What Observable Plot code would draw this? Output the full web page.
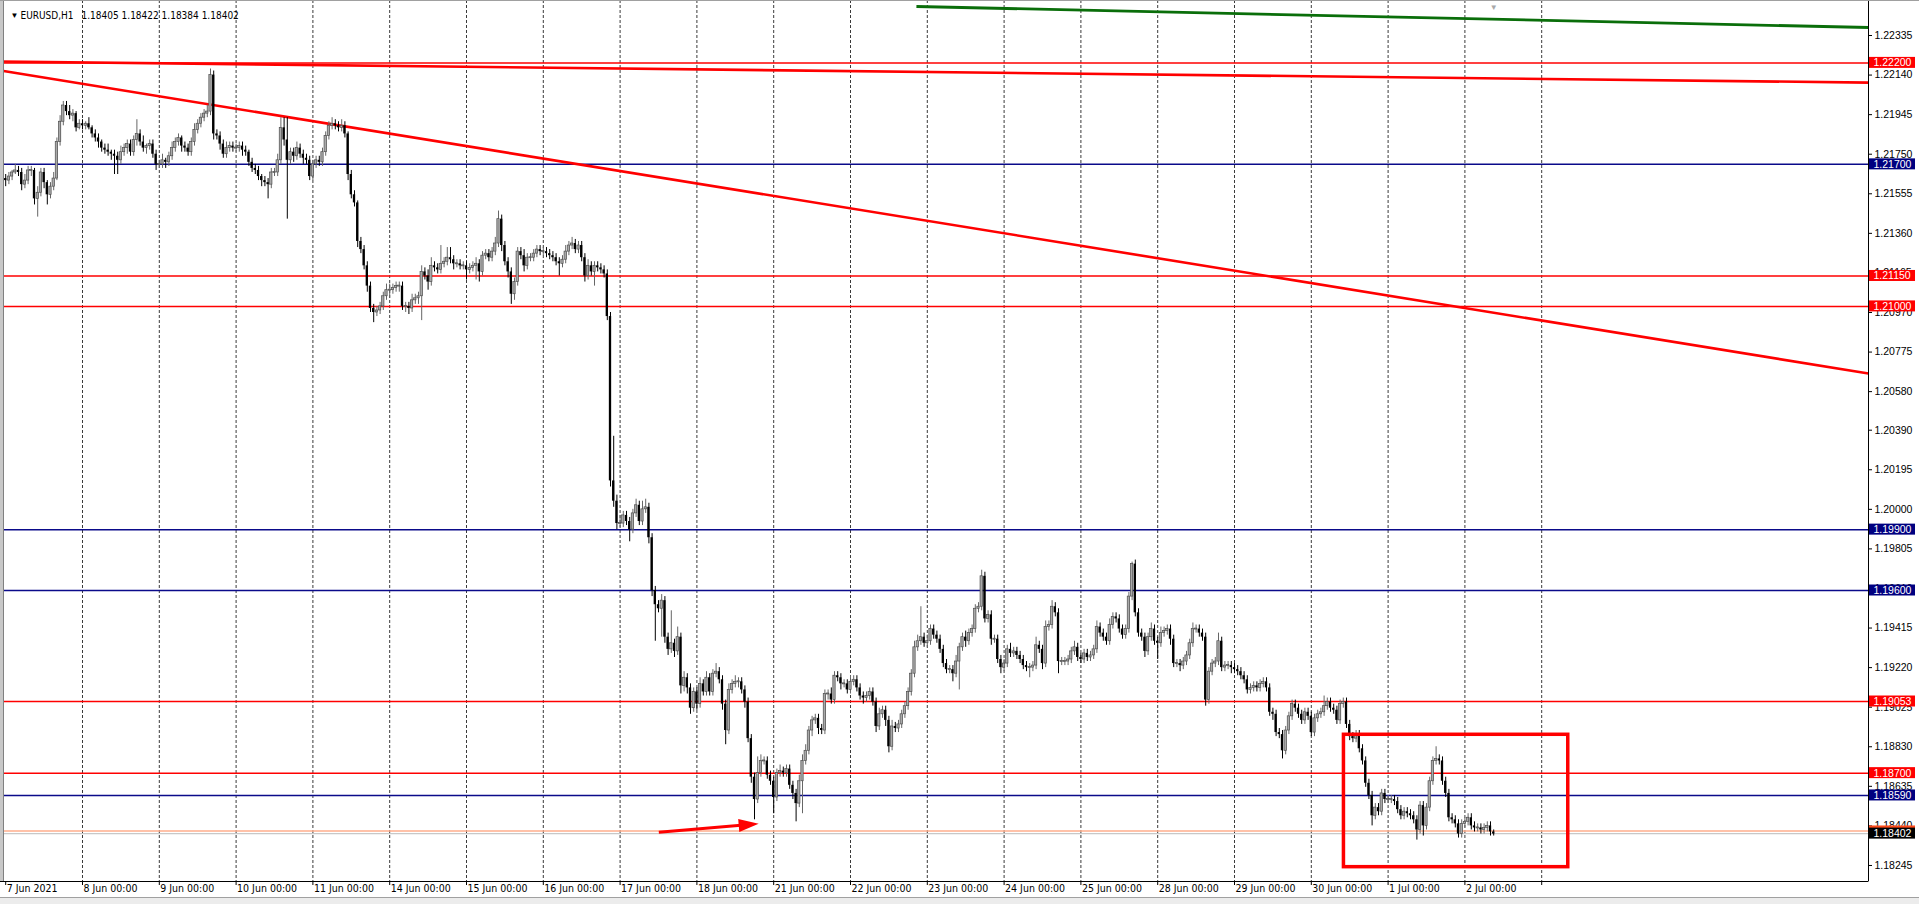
<!DOCTYPE html>
<html><head><meta charset="utf-8">
<script src="https://cdn.jsdelivr.net/npm/d3@7"></script>
<script src="https://cdn.jsdelivr.net/npm/@observablehq/plot@0.6"></script>
<style>html,body{margin:0;padding:0;background:#fff;overflow:hidden}</style>
</head><body><div id="chart"></div>
<script>
// ---- EURUSD H1 closes per trading day (in 0.0001 units) ----
const firstOpen = 12163;
const c0607 = [12162,12164,12166,12167,12166,12160,12162,12167,12167,12153,12156,12166,12161,12155,12159,12163,12181,12191,12199,12196,12194,12195,12188,12190];
const c0608 = [12189,12190,12188,12185,12183,12181,12178,12177,12176,12175,12174,12172,12176,12178,12180,12176,12182,12185,12181,12178,12179,12180,12175,12170];
const c0609 = [12170,12172,12171,12174,12178,12181,12183,12179,12178,12176,12181,12187,12190,12193,12195,12196,12214,12185,12184,12180,12175,12178,12179,12178];
const c0610 = [12178,12179,12177,12176,12171,12168,12167,12164,12162,12161,12160,12166,12166,12172,12188,12182,12172,12176,12174,12178,12175,12173,12172,12164];
const c0611 = [12170,12172,12171,12176,12184,12189,12190,12189,12188,12189,12185,12165,12155,12151,12132,12128,12120,12110,12099,12097,12098,12100,12105,12108];
const c0614 = [12108,12109,12110,12110,12100,12100,12099,12103,12104,12105,12117,12115,12112,12120,12119,12118,12121,12122,12124,12123,12121,12121,12120,12120];
const c0615 = [12118,12119,12120,12121,12117,12125,12126,12124,12127,12131,12143,12130,12122,12117,12106,12112,12127,12125,12120,12124,12124,12126,12128,12127];
const c0616 = [12127,12126,12125,12124,12122,12121,12123,12127,12130,12131,12128,12130,12124,12115,12120,12117,12120,12119,12118,12116,12095,12014,12004,11993];
const c0617 = [11993,11997,11994,11990,11998,12002,11994,12000,12001,11986,11960,11953,11951,11955,11937,11931,11934,11930,11937,11913,11917,11912,11902,11910];
const c0618 = [11904,11914,11910,11917,11910,11919,11920,11916,11904,11891,11911,11914,11915,11915,11911,11905,11887,11868,11857,11870,11876,11876,11869,11866];
const c0621 = [11858,11870,11871,11870,11872,11864,11860,11855,11866,11876,11881,11891,11896,11897,11892,11891,11909,11909,11906,11918,11917,11914,11914,11911];
const c0622 = [11915,11916,11912,11908,11907,11908,11910,11905,11893,11899,11901,11896,11883,11893,11892,11894,11899,11903,11910,11919,11932,11935,11937,11934];
const c0623 = [11935,11941,11938,11936,11931,11924,11921,11921,11919,11925,11932,11937,11935,11939,11941,11951,11952,11967,11946,11948,11936,11936,11926,11922];
const c0624 = [11924,11931,11929,11930,11928,11926,11923,11922,11922,11923,11933,11931,11924,11942,11943,11952,11949,11925,11925,11925,11926,11930,11932,11927];
const c0625 = [11926,11929,11927,11928,11931,11942,11939,11937,11935,11943,11947,11946,11941,11938,11941,11957,11973,11949,11939,11937,11930,11937,11941,11935];
const c0628 = [11934,11939,11940,11941,11936,11924,11924,11923,11925,11928,11934,11941,11941,11939,11937,11906,11920,11924,11925,11935,11922,11923,11923,11922];
const c0629 = [11921,11920,11918,11916,11911,11912,11913,11912,11914,11915,11912,11900,11899,11890,11889,11881,11891,11898,11904,11902,11899,11896,11900,11898];
const c0630 = [11890,11897,11899,11900,11903,11905,11902,11901,11896,11904,11905,11894,11888,11887,11889,11882,11876,11865,11859,11849,11853,11851,11860,11857];
const c0701 = [11857,11857,11856,11852,11849,11851,11850,11849,11847,11842,11854,11844,11853,11866,11876,11877,11876,11866,11860,11848,11847,11845,11840,11845];
const c0702 = [11846,11848,11844,11843,11843,11842,11843,11844,11841,11840];

// upper wick sizes (0.0001 units)
const u0607 = [2,2,1,3,2,2,3,2,2,1,3,2,2,1,2,3,2,3,2,2,3,2,1,2];
const u0608 = [2,1,3,1,2,2,1,2,3,1,2,2,3,2,2,2,2,7,2,3,1,2,2,2];
const u0609 = [2,3,1,2,3,2,2,1,2,2,2,3,2,2,2,3,3,2,2,2,2,3,2,2];
const u0610 = [2,2,2,2,1,2,2,2,1,2,2,2,2,3,5,5,11,2,2,3,2,2,2,2];
const u0611 = [2,2,2,2,2,2,3,2,2,3,2,1,2,2,1,2,2,2,2,2,2,2,2,3];
const u0614 = [3,2,2,2,2,2,2,3,2,2,3,2,3,4,2,2,9,2,5,5,2,2,2,2];
const u0615 = [2,2,2,3,2,2,2,2,2,3,4,2,2,2,2,2,2,2,3,2,2,2,2,2];
const u0616 = [2,2,2,2,2,2,2,3,2,3,2,2,2,2,3,2,2,2,2,2,2,2,22,3];
const u0617 = [4,2,2,2,2,3,2,4,4,2,2,2,2,3,2,2,16,2,5,2,3,2,2,2];
const u0618 = [2,3,2,3,2,2,4,2,2,2,3,2,3,2,2,2,2,2,2,8,3,2,2,2];
const u0621 = [2,2,3,2,2,2,2,2,3,3,3,2,2,2,2,2,2,2,3,2,2,2,2,2];
const u0622 = [3,2,2,2,2,2,2,2,2,3,2,2,2,3,2,2,2,2,2,2,3,3,15,2];
const u0623 = [3,2,2,2,2,2,2,2,2,3,2,2,3,2,2,2,2,3,2,2,2,2,2,2];
const u0624 = [2,2,3,2,2,2,2,2,2,2,4,2,2,3,2,3,2,2,2,2,2,2,3,2];
const u0625 = [2,2,2,2,2,3,2,2,2,3,2,2,2,2,2,2,1,2,2,2,2,2,3,2];
const u0628 = [2,3,2,2,2,2,2,2,2,2,2,3,2,2,2,2,2,2,2,4,2,2,2,2];
const u0629 = [2,2,2,2,2,2,2,2,2,2,2,2,2,2,2,2,2,2,2,2,2,2,2,2];
const u0630 = [2,2,2,2,5,2,2,2,2,2,2,2,2,2,2,2,2,2,2,2,2,2,2,2];
const u0701 = [2,2,2,2,2,2,2,2,2,2,2,2,2,2,2,6,2,2,2,2,2,2,2,2];
const u0702 = [2,2,2,2,2,2,2,2,2,1];

// lower wick sizes (0.0001 units)
const l0607 = [3,2,2,1,2,3,2,2,3,3,9,2,3,5,2,2,1,2,2,2,2,3,2,1];
const l0608 = [2,2,1,2,2,3,2,2,2,3,9,7,2,2,3,2,2,3,2,2,3,2,2,3];
const l0609 = [2,2,3,2,2,2,2,3,2,2,2,2,2,2,2,2,2,3,2,3,2,2,2,2];
const l0610 = [2,2,3,2,2,2,2,2,3,2,7,2,2,2,2,3,29,2,3,2,2,3,2,2];
const l0611 = [2,2,2,2,2,2,2,2,2,2,2,3,2,2,3,2,2,3,2,5,2,2,2,2];
const l0614 = [4,2,2,3,2,3,3,2,2,3,12,2,4,2,2,2,2,2,2,2,3,2,2,2];
const l0615 = [5,2,2,7,5,2,2,2,2,2,2,3,2,3,5,3,2,2,3,2,2,2,2,2];
const l0616 = [2,2,2,2,2,6,2,2,2,2,2,2,2,3,2,2,7,2,2,2,2,3,3,3];
const l0617 = [2,2,2,6,2,2,2,2,2,3,3,18,2,14,3,3,2,3,2,4,3,3,3,2];
const l0618 = [3,2,2,2,2,2,2,2,3,7,2,2,2,3,2,3,2,3,10,2,2,2,2,2];
const l0621 = [8,2,2,2,2,2,3,9,2,16,2,2,3,2,3,2,2,3,2,2,2,3,2,2];
const l0622 = [2,2,2,2,3,2,2,2,3,2,2,3,3,2,2,2,2,2,2,2,2,2,2,2];
const l0623 = [2,2,2,2,2,2,2,2,4,2,14,2,3,2,2,2,2,2,2,2,3,2,2,3];
const l0624 = [2,2,2,2,2,2,2,2,5,2,2,2,3,2,2,2,2,6,2,2,2,2,2,2];
const l0625 = [2,2,2,2,2,2,2,2,2,2,2,2,2,2,2,2,2,2,2,2,3,2,2,2];
const l0628 = [8,2,2,2,3,2,2,3,2,2,2,2,2,2,2,3,2,2,2,2,2,2,2,3];
const l0629 = [2,2,2,2,2,2,2,2,2,2,2,2,3,2,2,4,2,2,2,2,2,2,2,2];
const l0630 = [2,2,2,2,2,2,2,2,2,2,2,2,2,2,2,2,2,2,2,5,2,2,2,2];
const l0701 = [2,2,2,2,2,2,2,2,2,5,2,5,2,2,2,2,2,2,2,2,2,2,2,2];
const l0702 = [2,2,2,2,2,2,2,2,2,1];

const dayLabels = ["7 Jun 2021","8 Jun 00:00","9 Jun 00:00","10 Jun 00:00","11 Jun 00:00","14 Jun 00:00","15 Jun 00:00","16 Jun 00:00","17 Jun 00:00","18 Jun 00:00","21 Jun 00:00","22 Jun 00:00","23 Jun 00:00","24 Jun 00:00","25 Jun 00:00","28 Jun 00:00","29 Jun 00:00","30 Jun 00:00","1 Jul 00:00","2 Jul 00:00"];
const priceTicks = [1.22335,1.22140,1.21945,1.21750,1.21555,1.21360,1.21165,1.20970,1.20775,1.20580,1.20390,1.20195,1.20000,1.19805,1.19610,1.19415,1.19220,1.19025,1.18830,1.18635,1.18440,1.18245];
const redLevels = [1.22200,1.21150,1.21000,1.19053,1.18700];
const blueLevels = [1.21700,1.19900,1.19600,1.18590];
const bidPrice = 1.18402, askPrice = 1.18415;
const symbolName = "EURUSD,H1";
const ohlcHeader = ["1.18405","1.18422","1.18384","1.18402"];
// drawn objects: [barIndex1, price1, barIndex2, price2]
const redTrends = [[-1.625,1.22207,582.125,1.22103],[-1.625,1.221625,582.125,1.206694]];
const greenTrend = [[284.6,1.224779,582.125,1.223744]];
const boxZone = [[418.2,1.182366,488.3,1.188890]];
const arrowSeg = [[204.1,1.184090,235.3,1.184504]];

// ---- build table ----
const closesByDay = [c0607,c0608,c0609,c0610,c0611,c0614,c0615,c0616,c0617,c0618,c0621,c0622,c0623,c0624,c0625,c0628,c0629,c0630,c0701,c0702];
const upByDay = [u0607,u0608,u0609,u0610,u0611,u0614,u0615,u0616,u0617,u0618,u0621,u0622,u0623,u0624,u0625,u0628,u0629,u0630,u0701,u0702];
const loByDay = [l0607,l0608,l0609,l0610,l0611,l0614,l0615,l0616,l0617,l0618,l0621,l0622,l0623,l0624,l0625,l0628,l0629,l0630,l0701,l0702];
const candles = [];
let prev = firstOpen;
closesByDay.forEach((arr, d) => arr.forEach((c, h) => {
  const o = prev;
  candles.push({i: d*24 + h, o: o/1e4, c: c/1e4,
    h: (Math.max(o,c) + upByDay[d][h])/1e4, l: (Math.min(o,c) - loByDay[d][h])/1e4});
  prev = c;
}));

// ---- geometry ----
const W = 1919, H = 904, plotRight = 1868, plotBottom = 881;
const xMin = -1.625, xMax = 582.125, yMin = 1.18166, yMax = 1.225075;
const pxX = (xMax - xMin) / plotRight;      // bar units per px
const pxY = (yMax - yMin) / plotBottom;     // price per px
candles.forEach(d => {
  const half = 0.5 * pxY;
  d.b1 = Math.min(d.o, d.c); d.b2 = Math.max(d.o, d.c);
  if (d.b2 - d.b1 < 2*half) { d.b1 -= half; d.b2 += half; }
});
const bull = candles.filter(d => d.c >= d.o), bear = candles.filter(d => d.c < d.o);
const levelBoxes = [
  ...redLevels.map(p => ({p, fill: "#ff0000", t: p.toFixed(5)})),
  ...blueLevels.map(p => ({p, fill: "#000080", t: p.toFixed(5)})),
];
const gridIdx = d3.range(1, 21).map(k => k*24);
const tickIdx = d3.range(0, 21).map(k => k*24);

// arrow head custom symbol oriented along the arrow in screen space
const a = arrowSeg[0];
const ang = Math.atan2(-(a[3]-a[1])/pxY, (a[2]-a[0])/pxX);
const ux = Math.cos(ang), uy = Math.sin(ang);
const headSymbol = {draw(ctx) {
  const L = 20, Wd = 6.5;
  ctx.moveTo(0, 0);
  ctx.lineTo(-L*ux - Wd*uy, -L*uy + Wd*ux);
  ctx.lineTo(-L*ux + Wd*uy, -L*uy - Wd*ux);
  ctx.closePath();
}};

const narrow = "'Liberation Sans Narrow','DejaVu Sans Condensed','Liberation Sans',sans-serif";
const reg = "'Liberation Sans',Arial,sans-serif";

const chart = Plot.plot({
  width: W, height: H,
  marginLeft: 0, marginRight: W - plotRight, marginTop: 0, marginBottom: H - plotBottom,
  x: {type: "linear", domain: [xMin, xMax], axis: null},
  y: {type: "linear", domain: [yMin, yMax], axis: null},
  color: {type: "identity"},
  style: {background: "#fff", fontFamily: reg, color: "#000", overflow: "visible"},
  marks: [
    Plot.frame({stroke: "#8a8a8a"}),
    Plot.ruleX(gridIdx, {x: d => d, stroke: "#3a3a3a", strokeDasharray: "3,2", strokeWidth: 1}),
    Plot.ruleY(redLevels, {y: d => d, stroke: "#ff0000", strokeWidth: 1.5}),
    Plot.ruleY(blueLevels, {y: d => d, stroke: "#0a0a8a", strokeWidth: 1.5}),
    Plot.ruleY([askPrice], {y: d => d, stroke: "#ffae8c", strokeWidth: 1.5}),
    Plot.ruleY([bidPrice], {y: d => d, stroke: "#c8c8c8", strokeWidth: 1.2}),
    Plot.link(redTrends, {x1: d => d[0], y1: d => d[1], x2: d => d[2], y2: d => d[3], stroke: "#ff0000", strokeWidth: 2.6}),
    Plot.link(greenTrend, {x1: d => d[0], y1: d => d[1], x2: d => d[2], y2: d => d[3], stroke: "#0a6e0a", strokeWidth: 2.8}),
    // candles
    Plot.ruleX(bull, {x: "i", y1: "l", y2: "h", stroke: "#666", strokeWidth: 1}),
    Plot.ruleX(bear, {x: "i", y1: "l", y2: "h", stroke: "#000", strokeWidth: 1}),
    Plot.rect(bull, {x1: d => d.i - 0.36, x2: d => d.i + 0.36, y1: "b1", y2: "b2", fill: "#a9a9a9", stroke: "#4e4e4e", strokeWidth: 0.7}),
    Plot.rect(bear, {x1: d => d.i - 0.36, x2: d => d.i + 0.36, y1: "b1", y2: "b2", fill: "#000"}),
    // annotations
    Plot.rect(boxZone, {x1: d => d[0], y1: d => d[1], x2: d => d[2], y2: d => d[3], fill: "none", stroke: "#ff0000", strokeWidth: 3.5}),
    Plot.link(arrowSeg, {x1: d => d[0], y1: d => d[1], x2: d => d[2] - 12*pxX*ux, y2: d => d[3] + 12*pxY*uy, stroke: "#ff0000", strokeWidth: 3}),
    Plot.dot(arrowSeg, {x: d => d[2], y: d => d[3], symbol: headSymbol, r: 10, fill: "#ff0000", stroke: "none"}),
    // axes
    Plot.ruleX([xMax], {x: d => d, stroke: "#000", strokeWidth: 1}),
    Plot.ruleY([yMin], {y: d => d, stroke: "#000", strokeWidth: 1}),
    Plot.ruleX(tickIdx, {x: d => d, y1: yMin, y2: yMin - 4*pxY, stroke: "#000"}),
    Plot.ruleY(priceTicks, {y: d => d, x1: xMax, x2: xMax + 4*pxX, stroke: "#000"}),
    Plot.text(priceTicks, {y: d => d, frameAnchor: "right", dx: 6, textAnchor: "start", text: d => d.toFixed(5), fontSize: 10.5, fontFamily: reg, fill: "#000"}),
    Plot.text(dayLabels, {x: (d, k) => k*24, frameAnchor: "bottom", dy: 10, dx: 1, textAnchor: "start", text: d => d, fontSize: 10.5, fontFamily: narrow, fill: "#000"}),
    // level price boxes
    Plot.rect(levelBoxes, {x1: xMax + 1*pxX, x2: xMax + 47*pxX, y1: d => d.p - 5.5*pxY, y2: d => d.p + 5.5*pxY, fill: "fill"}),
    Plot.text(levelBoxes, {y: "p", frameAnchor: "right", dx: 5, textAnchor: "start", text: "t", fill: "#fff", fontSize: 10.5, fontFamily: reg}),
    Plot.rect([askPrice], {x1: xMax + 1*pxX, x2: xMax + 47*pxX, y1: d => d - 5*pxY, y2: d => d + 5*pxY, fill: "#ff4a1a"}),
    Plot.rect([bidPrice], {x1: xMax + 1*pxX, x2: xMax + 47*pxX, y1: d => d - 5.5*pxY, y2: d => d + 5.5*pxY, fill: "#000"}),
    Plot.text([bidPrice], {y: d => d, frameAnchor: "right", dx: 5, textAnchor: "start", text: d => d.toFixed(5), fill: "#fff", fontSize: 10.5, fontFamily: reg}),
    // header
    Plot.text(["▼"], {frameAnchor: "top-left", dx: 10, dy: 15, lineAnchor: "middle", text: d => d, fontSize: 8, fill: "#000"}),
    Plot.text([symbolName], {frameAnchor: "top-left", dx: 20, dy: 15, lineAnchor: "middle", textAnchor: "start", text: d => d, fontSize: 10, fontFamily: narrow, fill: "#000"}),
    Plot.text([ohlcHeader.join(" ")], {frameAnchor: "top-left", dx: 81, dy: 15, lineAnchor: "middle", textAnchor: "start", text: d => d, fontSize: 10, fontFamily: narrow, fill: "#000"}),
    Plot.text(["▼"], {x: () => candles[candles.length-1].i, frameAnchor: "top", dy: 7, lineAnchor: "middle", text: d => d, fontSize: 8, fill: "#a8a8a8"})
  ]
});
document.getElementById("chart").appendChild(chart);
const svg = d3.select(chart);
svg.append("rect").attr("x", 0).attr("y", 0).attr("width", 3).attr("height", plotBottom).attr("fill", "#c8c8c8");
svg.append("line").attr("x1", 3.5).attr("x2", 3.5).attr("y1", 0).attr("y2", plotBottom).attr("stroke", "#808080");
svg.append("rect").attr("x", 0).attr("y", 897).attr("width", W).attr("height", 7).attr("fill", "#ececec");
svg.append("line").attr("x1", 0).attr("x2", W).attr("y1", 897.5).attr("y2", 897.5).attr("stroke", "#a0a0a0");
svg.append("line").attr("x1", 0).attr("x2", W).attr("y1", 0.5).attr("y2", 0.5).attr("stroke", "#a0a0a0");
</script></body></html>
